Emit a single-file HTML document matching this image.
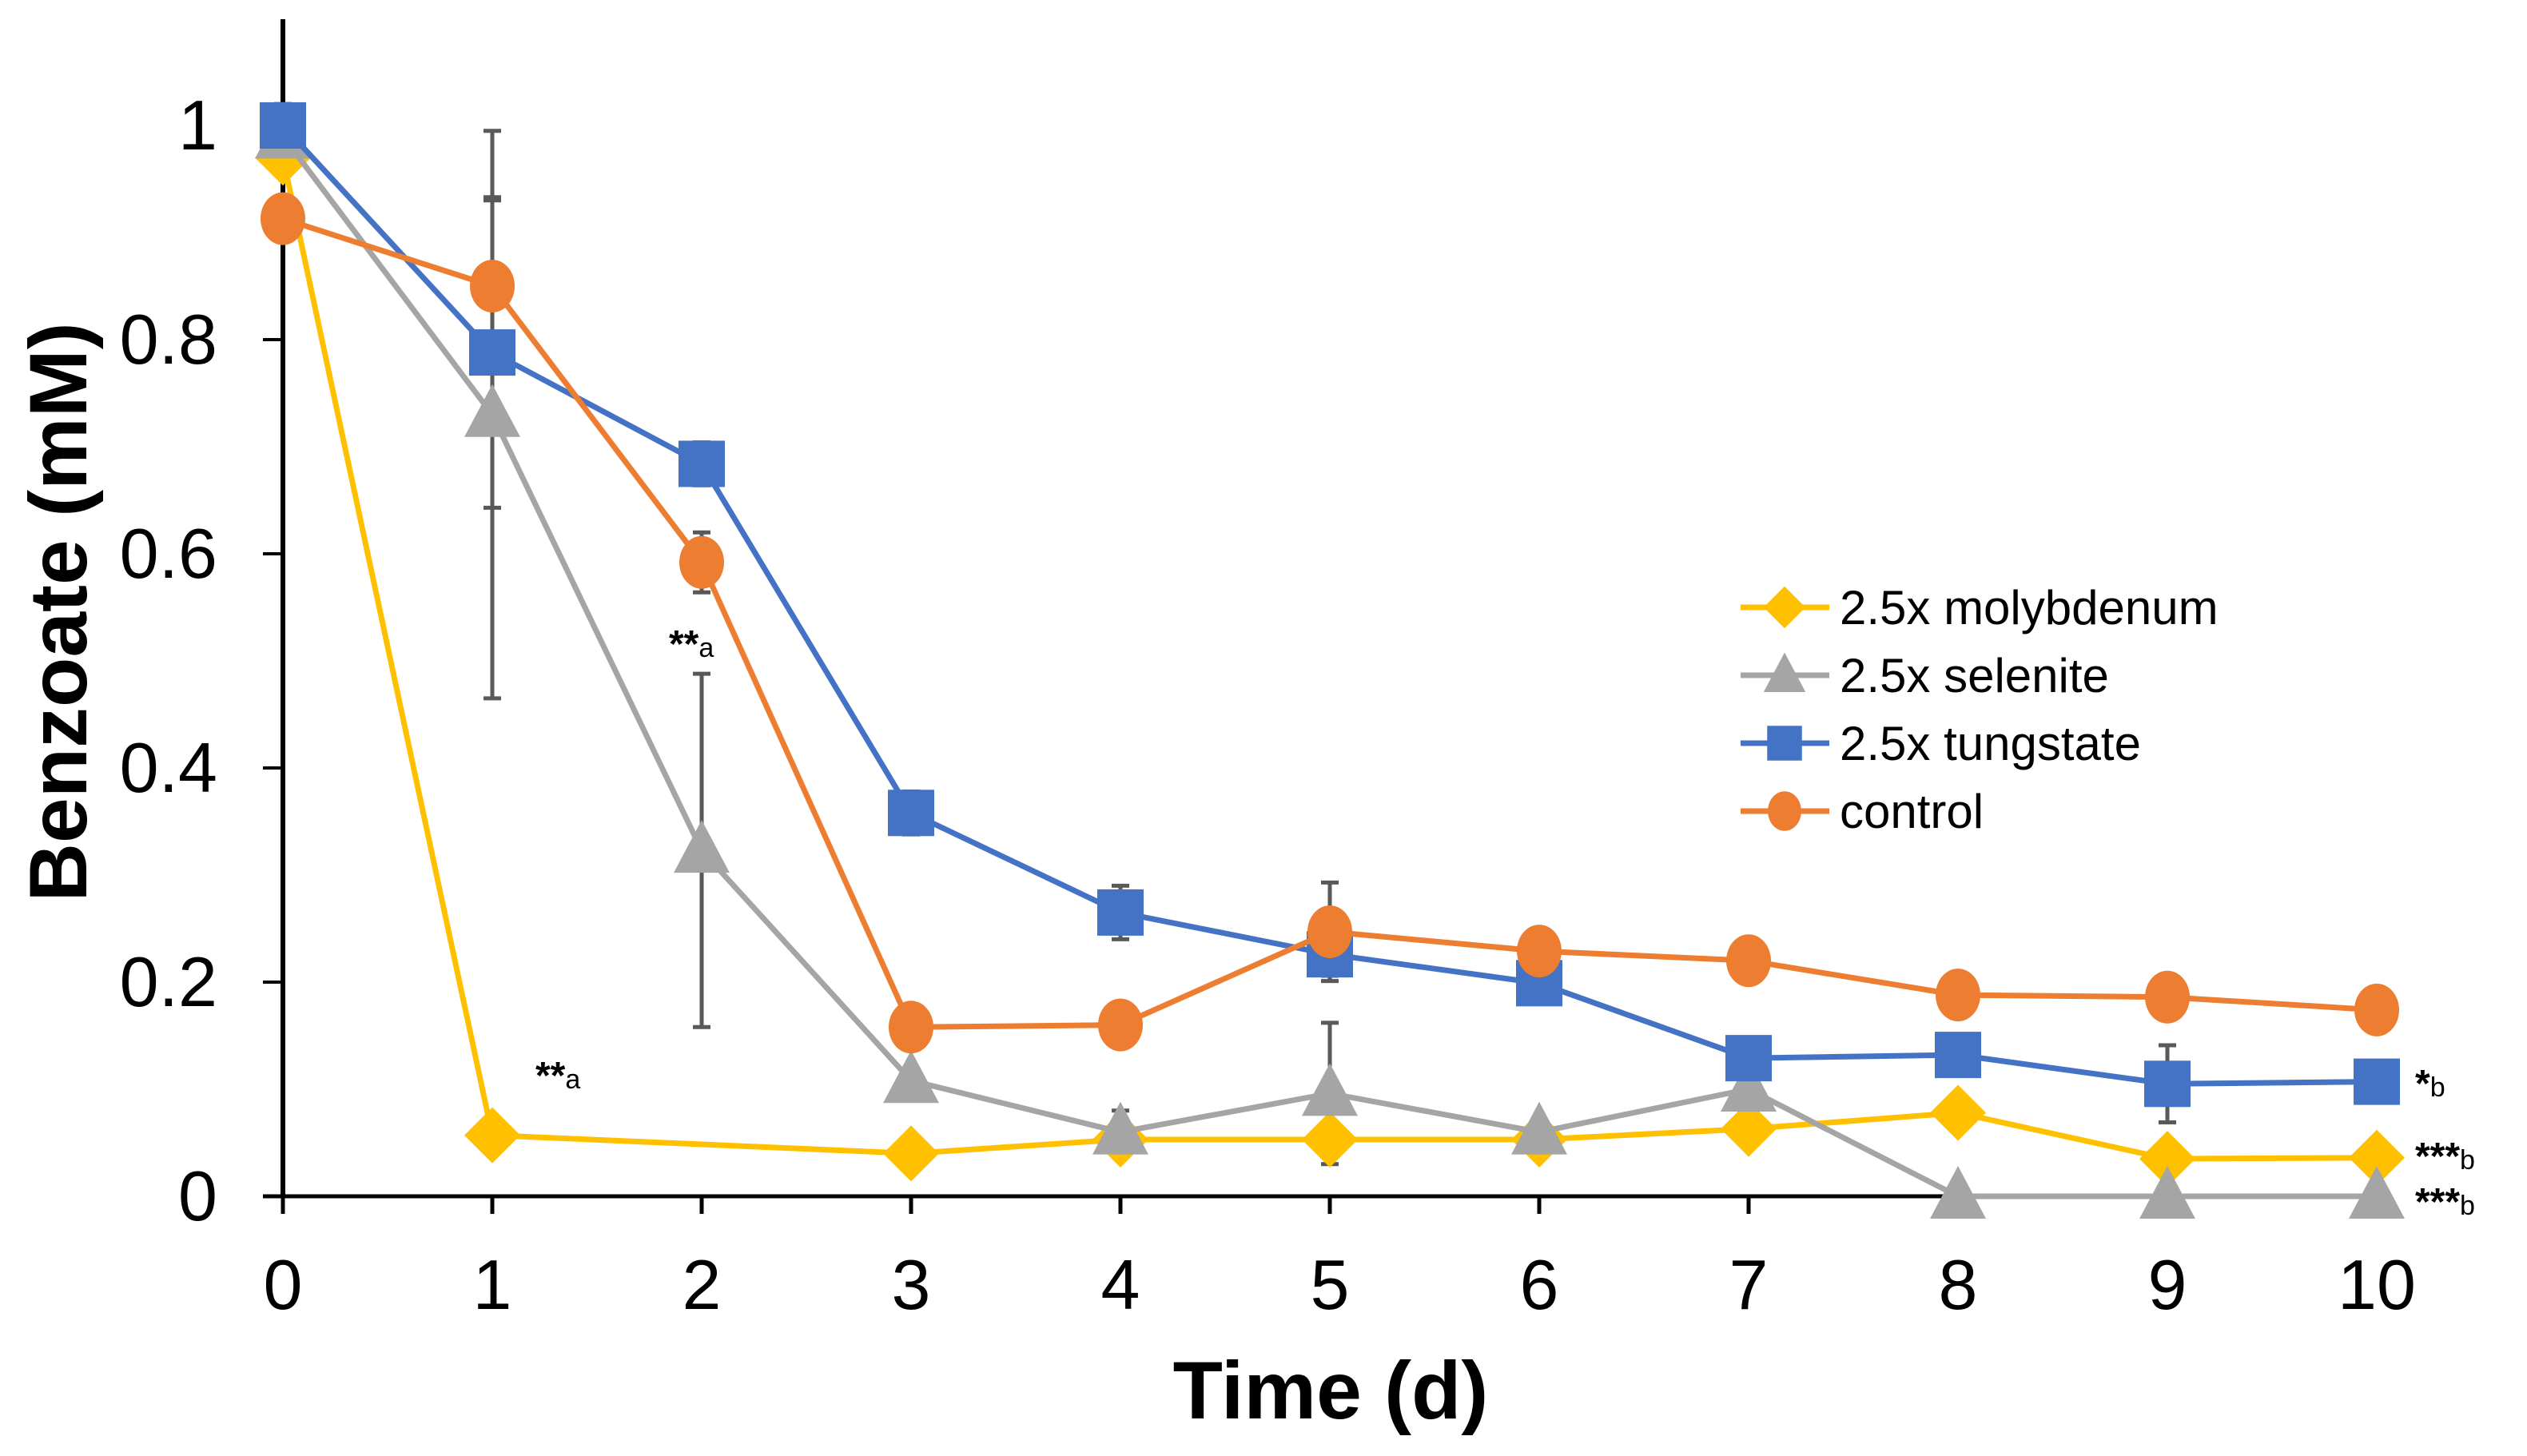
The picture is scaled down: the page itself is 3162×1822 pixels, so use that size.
<!DOCTYPE html>
<html><head><meta charset="utf-8"><style>
html,body{margin:0;padding:0;background:#fff}
svg{display:block}
text{font-family:"Liberation Sans",sans-serif}
</style></head><body>
<svg id="chart" width="3162" height="1822" viewBox="0 0 3162 1822" xmlns="http://www.w3.org/2000/svg"></svg>
<script>
const days = [0,1,2,3,4,5,6,7,8,9,10];
const xTickLabels = ["0","1","2","3","4","5","6","7","8","9","10"];
const yTicks = [0,0.2,0.4,0.6,0.8,1];
const yTickLabels = ["0","0.2","0.4","0.6","0.8","1"];
const molybdenum = [0.97,0.057,null,0.04,0.053,0.053,0.053,0.063,0.078,0.035,0.036];
const molybdenumErr = [0,0.01,0,0,0,0,0,0,0.01,0,0];
const selenite = [0.99,0.73,0.323,0.108,0.06,0.096,0.06,0.1,0,0,0];
const seleniteErr = [0.03,0.265,0.165,0,0.02,0.066,0,0,0,0,0];
const tungstate = [1.0,0.788,0.684,0.358,0.265,0.226,0.199,0.129,0.132,0.105,0.107];
const tungstateErr = [0.02,0.145,0.02,0.02,0.025,0.02,0,0,0,0.036,0];
const control = [0.913,0.85,0.592,0.158,0.16,0.247,0.229,0.22,0.188,0.186,0.174];
const controlErr = [0,0.08,0.028,0,0,0.046,0,0,0,0,0];
const seriesNames = ["2.5x molybdenum","2.5x selenite","2.5x tungstate","control"];

const NS="http://www.w3.org/2000/svg";
const svg=document.getElementById('chart');
const X0=354, XS=262, Y0=1497, YS=1340;
const xs=d=>X0+d*XS, ys=v=>Y0-v*YS;
function mk(tag,attrs,parent){const e=document.createElementNS(NS,tag);for(const k in attrs)e.setAttribute(k,attrs[k]);(parent||svg).appendChild(e);return e;}

const axes=mk('g',{});


mk('line',{x1:X0,y1:24,x2:X0,y2:Y0+2,stroke:'#000','stroke-width':6},axes);
mk('line',{x1:329,y1:Y0,x2:xs(10)+8,y2:Y0,stroke:'#000','stroke-width':5},axes);
yTicks.forEach((v,i)=>{
  mk('line',{x1:329,y1:ys(v),x2:X0,y2:ys(v),stroke:'#000','stroke-width':4},axes);
  const t=mk('text',{x:272,y:ys(v)+30,'text-anchor':'end','font-size':88},axes);
  
  
  t.textContent=yTickLabels[i];
});
days.forEach((d,i)=>{
  mk('line',{x1:xs(d),y1:Y0,x2:xs(d),y2:Y0+22,stroke:'#000','stroke-width':5},axes);
  const t=mk('text',{x:xs(d),y:1638,'text-anchor':'middle','font-size':88},axes);
  
  
  t.textContent=xTickLabels[i];
});
const xt=mk('text',{x:1665,y:1775,'text-anchor':'middle','font-size':102,'font-weight':'bold'});


xt.textContent='Time (d)';
const yt=mk('text',{x:0,y:0,'text-anchor':'middle','font-size':102,'font-weight':'bold',transform:'translate(108,766) rotate(-90)'});


yt.textContent='Benzoate (mM)';

const series=[
 {name:'molybdenum',vals:molybdenum,err:molybdenumErr,color:'#FFC000',m:'diamond'},
 {name:'selenite',vals:selenite,err:seleniteErr,color:'#A5A5A5',m:'triangle'},
 {name:'tungstate',vals:tungstate,err:tungstateErr,color:'#4472C4',m:'square'},
 {name:'control',vals:control,err:controlErr,color:'#ED7D31',m:'circle'}
];
function marker(type,cx,cy,color,g){
  if(type==='diamond') return mk('polygon',{points:`${cx},${cy-35} ${cx+35},${cy} ${cx},${cy+35} ${cx-35},${cy}`,fill:color},g);
  if(type==='triangle') return mk('polygon',{points:`${cx},${cy-38} ${cx+35},${cy+28} ${cx-35},${cy+28}`,fill:color},g);
  if(type==='square') return mk('rect',{x:cx-29,y:cy-29,width:58,height:58,fill:color},g);
  return mk('ellipse',{cx:cx,cy:cy,rx:28,ry:33,fill:color},g);
}
const eg=mk('g',{});


series.forEach(s=>{
  s.vals.forEach((v,i)=>{
    if(v==null||!s.err[i])return;
    const x=xs(days[i]),a=ys(v+s.err[i]),b=ys(Math.max(0,v-s.err[i]));
    mk('line',{x1:x,y1:a,x2:x,y2:b,stroke:'#595959','stroke-width':5},eg);
    mk('line',{x1:x-11,y1:a,x2:x+11,y2:a,stroke:'#595959','stroke-width':5},eg);
    mk('line',{x1:x-11,y1:b,x2:x+11,y2:b,stroke:'#595959','stroke-width':5},eg);
  });
});
series.forEach(s=>{
  const g=mk('g',{});
  
  
  const pts=[];
  s.vals.forEach((v,i)=>{if(v!=null)pts.push(xs(days[i])+','+ys(v));});
  mk('polyline',{points:pts.join(' '),fill:'none',stroke:s.color,'stroke-width':7,'stroke-linejoin':'round'},g);
  s.vals.forEach((v,i)=>{
    if(v==null)return;
    const m=marker(s.m,xs(days[i]),ys(v),s.color,g);
    
    
  });
});
const lg=mk('g',{});


series.forEach((s,i)=>{
  const y=760+i*85;
  const e=mk('g',{},lg);
  
  
  mk('line',{x1:2178,y1:y,x2:2289,y2:y,stroke:s.color,'stroke-width':7},e);
  marker(s.m,2233,y,s.color,e).setAttribute('transform',`translate(2233 ${y}) scale(0.75) translate(-2233 ${-y})`);
  const t=mk('text',{x:2302,y:y+21,'font-size':60},e);
  t.textContent=seriesNames[i];
});
const ann=[[670,1362,'**','a'],[837,822,'**','a'],[3022,1372,'*','b'],[3022,1463,'***','b'],[3022,1520,'***','b']];
ann.forEach(a=>{
  const t=mk('text',{x:a[0],y:a[1],'font-size':48,'font-weight':'bold'});
  
  
  t.textContent=a[2];
  const s=mk('tspan',{'font-size':34,'font-weight':'normal'},t);
  s.textContent=a[3];
});
</script>
</body></html>
